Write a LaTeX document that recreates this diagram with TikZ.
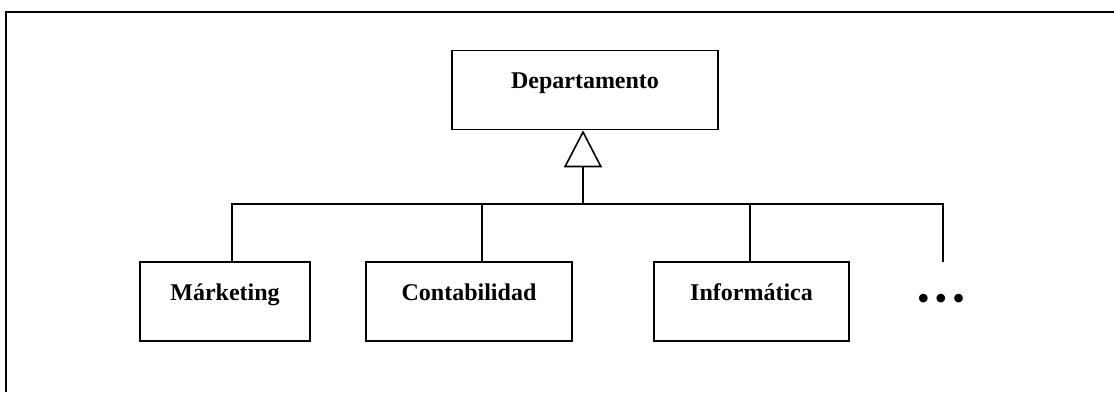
\documentclass[tikz,border=0pt]{standalone}
\usepackage{fontspec}
\setmainfont{Liberation Serif}
\usetikzlibrary{arrows.meta}
\usetikzlibrary{positioning}

\begin{document}
\begin{tikzpicture}[x=1pt,y=-1pt,line width=1.6pt,
                    class box/.style={rectangle,draw,minimum height=79pt,
                      font=\fontsize{24}{28}\selectfont\bfseries,
                      text height=15pt,text depth=18pt,inner sep=0pt}]
  \useasboundingbox (0,0) rectangle (1114,392);

  % outer frame (cut off at right and bottom)
  \draw[line width=2pt] (6,392) -- (6,12) -- (1114,12);

  \node[class box,minimum width=266pt] (dep) at (585,90) {Departamento};

  \node[class box,minimum width=170pt] (mark) at (225,301.5) {Márketing};
  \node[class box,minimum width=206pt] (cont) at (469,301.5) {Contabilidad};
  \node[class box,minimum width=195pt] (info) at (751.5,301.5) {Informática};
  \node[font=\fontsize{36}{40}\selectfont,inner sep=0pt] (more) at (941,302)
       {\textbullet\hspace{5pt}\textbullet\hspace{5pt}\textbullet};

  \coordinate (hub) at (583,204);
  \coordinate (moreTop) at (943,262);

  \draw[-{Triangle[open,length=37pt,width=38pt,line width=1.6pt]}]
    (hub) -- (dep.south -| hub);

  \draw
  	([xshift=7pt]mark.north) |- (hub)
  	([xshift=13pt]cont.north) |- (hub)
  	([xshift=-1.5pt]info.north) |- (hub)
  	(moreTop) |- (hub)
  	;
\end{tikzpicture}
\end{document}
